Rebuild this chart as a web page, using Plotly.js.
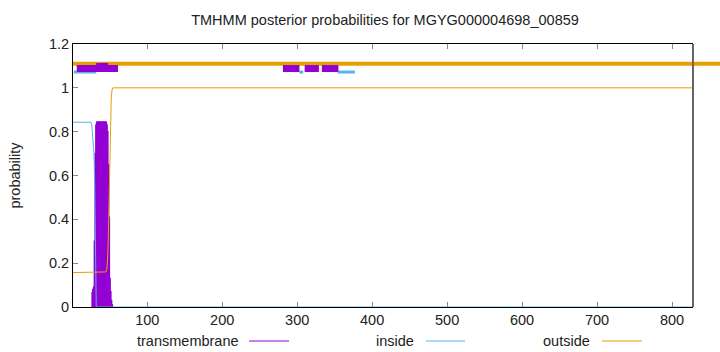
<!DOCTYPE html>
<html>
<head>
<meta charset="utf-8">
<script src="https://cdn.plot.ly/plotly-3.0.1.min.js"></script>
<style>html,body{margin:0;padding:0;background:#fff;}#chart{width:720px;height:352px;}</style>
</head>
<body>
<div id="chart"></div>
<script>
// ---- data ----
const seqLength = 828;
const xTicks = [100, 200, 300, 400, 500, 600, 700, 800];
const yTicks = [0, 0.2, 0.4, 0.6, 0.8, 1, 1.2];
const yTickText = ['0', '0.2', '0.4', '0.6', '0.8', '1', '1.2'];

// transmembrane posterior (impulses), residues 27..53
const tmResidues = [27, 28, 29, 30, 31, 32, 33, 34, 35, 36, 37, 38, 39, 40, 41, 42, 43, 44, 45, 46, 47, 48, 49, 50, 51, 52, 53];
const tmProb = [0.065, 0.08, 0.09, 0.3, 0.7, 0.83, 0.843, 0.843, 0.843, 0.843, 0.843, 0.843, 0.843, 0.843, 0.843, 0.843, 0.843, 0.843, 0.843, 0.83, 0.8, 0.65, 0.41, 0.13, 0.07, 0.03, 0.01];

// inside posterior
const insideResidues = [1, 25, 26, 27, 28, 29, 30, 31, 32, 828];
const insideProb = [0.843, 0.843, 0.835, 0.78, 0.76, 0.7, 0.55, 0.15, 0, 0];

// outside posterior
const outsideResidues = [1, 44, 45, 46, 47, 48, 49, 50, 51, 52, 53, 54, 828];
const outsideProb = [0.157, 0.157, 0.16, 0.17, 0.21, 0.3, 0.5, 0.7, 0.85, 0.95, 0.99, 1.0, 1.0];

// predicted topology bars at the top
const outsideBarStart = [1];
const outsideBarEnd = [900];
const insideBarStart = [2, 303, 354];
const insideBarEnd = [32, 308, 377];
const tmBarStart = [6, 281, 310, 333];
const tmBarEnd = [61, 303, 329, 355];
const tmBarWideStart = [32];
const tmBarWideEnd = [48];

const topOutsideLevel = 1.11;
const topTmLevel = 1.088;
const topTmWideLevel = 1.093;
const topInsideLevel = 1.072;

// ---- helpers ----
function segs(starts, ends, level) {
  const x = [], y = [];
  for (let i = 0; i < starts.length; i++) {
    x.push(starts[i], ends[i], null);
    y.push(level, level, null);
  }
  return {x, y};
}

const purple = '#9400d3', blue = '#56b4e9', orange = '#e69f00';
const FONT = 'Liberation Sans, Arial, sans-serif';
const FS = 14.5;

const oSeg = segs(outsideBarStart, outsideBarEnd, topOutsideLevel);
const iSeg = segs(insideBarStart, insideBarEnd, topInsideLevel);
const tSeg = segs(tmBarStart, tmBarEnd, topTmLevel);
const twSeg = segs(tmBarWideStart, tmBarWideEnd, topTmWideLevel);

const traces = [
  {type: 'bar', x: tmResidues, y: tmProb, width: 1, marker: {color: purple, line: {color: purple, width: 1.5}}, xaxis: 'x', yaxis: 'y', hoverinfo: 'x+y', name: 'transmembrane'},
  {type: 'scatter', mode: 'lines', x: insideResidues, y: insideProb, line: {color: blue, width: 1}, xaxis: 'x', yaxis: 'y', name: 'inside'},
  {type: 'scatter', mode: 'lines', x: outsideResidues, y: outsideProb, line: {color: orange, width: 1}, xaxis: 'x', yaxis: 'y', name: 'outside'},
  {type: 'scatter', mode: 'lines', x: oSeg.x, y: oSeg.y, line: {color: orange, width: 4}, xaxis: 'x2', yaxis: 'y2', hoverinfo: 'skip'},
  {type: 'scatter', mode: 'lines', x: iSeg.x, y: iSeg.y, line: {color: blue, width: 3}, xaxis: 'x2', yaxis: 'y2', hoverinfo: 'skip'},
  {type: 'scatter', mode: 'lines', x: tSeg.x, y: tSeg.y, line: {color: purple, width: 7}, xaxis: 'x2', yaxis: 'y2', hoverinfo: 'skip'},
  {type: 'scatter', mode: 'lines', x: twSeg.x, y: twSeg.y, line: {color: purple, width: 9}, xaxis: 'x2', yaxis: 'y2', hoverinfo: 'skip'}
];

// geometry: plot area 73..693 px horizontally, full paper 73..720
const W = 720, H = 352, mL = 73, mT = 44, mB = 45;
const plotRight = 693;
const paperW = W - mL;
const paperH = H - mT - mB;
const mainDomainEnd = (plotRight - mL) / paperW;
const xRange = [1, seqLength];
const x2Range = [1, 1 + (seqLength - 1) / mainDomainEnd];

function px(xp) { return (xp - mL) / paperW; }
function py(yp) { return (H - mB - yp) / paperH; }

const legendY = py(341);
const legendItems = [
  {text: 'transmembrane', textEnd: 241, l0: 249, l1: 289, color: purple},
  {text: 'inside', textEnd: 416, l0: 426, l1: 465, color: blue},
  {text: 'outside', textEnd: 592, l0: 602, l1: 642, color: orange}
];
const annotations = legendItems.map(it => ({
  xref: 'paper', yref: 'paper', x: px(it.textEnd), y: legendY, xanchor: 'right', yanchor: 'middle',
  text: it.text, showarrow: false, font: {family: FONT, size: FS, color: '#222'}
}));
const shapes = legendItems.map(it => ({
  type: 'line', xref: 'paper', yref: 'paper', x0: px(it.l0), x1: px(it.l1), y0: legendY, y1: legendY,
  line: {color: it.color, width: 1}
}));
// right border of the plot frame (gray, as in the reference)
shapes.push({type: 'line', xref: 'paper', yref: 'paper', x0: mainDomainEnd, x1: mainDomainEnd, y0: 0, y1: 1, line: {color: '#666', width: 2}});

const layout = {
  width: W, height: H,
  margin: {l: mL, r: 0, t: mT, b: mB, pad: 0},
  paper_bgcolor: '#fff', plot_bgcolor: 'rgba(0,0,0,0)',
  showlegend: false,
  barmode: 'overlay', bargap: 0,
  title: {text: 'TMHMM posterior probabilities for MGYG000004698_00859', x: px(385), xref: 'paper', xanchor: 'center', y: 1 - 20 / H, yanchor: 'middle', font: {family: FONT, size: FS, color: '#222'}},
  xaxis: {
    domain: [0, mainDomainEnd], range: xRange, tickvals: xTicks, ticks: 'inside', ticklen: 5, tickcolor: '#888', tickwidth: 1,
    showline: true, linecolor: '#000', linewidth: 1, mirror: 'ticks', showgrid: false, zeroline: false,
    tickfont: {family: FONT, size: FS, color: '#222'}, anchor: 'y'
  },
  yaxis: {
    domain: [0, 1], range: [0, 1.2], tickvals: yTicks, ticktext: yTickText, ticks: 'inside', ticklen: 5, tickcolor: '#888',
    showline: true, linecolor: '#000', linewidth: 1, mirror: false, showgrid: false, zeroline: false,
    tickfont: {family: FONT, size: FS, color: '#222'}, anchor: 'x',
    title: {text: 'probability', font: {family: FONT, size: FS, color: '#222'}, standoff: 24}
  },
  xaxis2: {domain: [0, 1], range: x2Range, visible: false, anchor: 'y2', fixedrange: true},
  yaxis2: {domain: [0, 1], range: [0, 1.2], visible: false, anchor: 'x2', fixedrange: true},
  annotations: annotations,
  shapes: shapes
};

Plotly.newPlot('chart', traces, layout, {displayModeBar: false, staticPlot: true});
</script>
</body>
</html>
